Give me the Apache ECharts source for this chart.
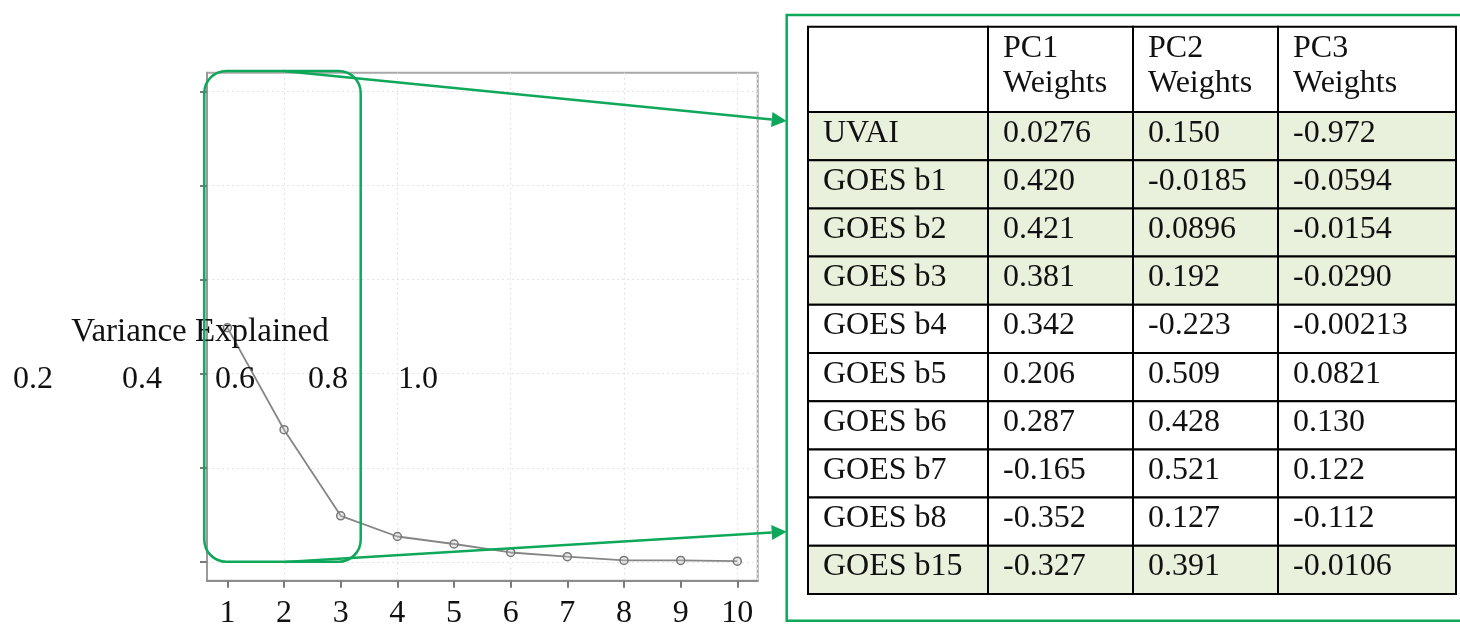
<!DOCTYPE html>
<html>
<head>
<meta charset="utf-8">
<script src="https://cdn.jsdelivr.net/npm/echarts@6/dist/echarts.min.js"></script>
<style>
html, body { margin: 0; padding: 0; background: #fff; }
#main { width: 1460px; height: 633px; }
</style>
</head>
<body>
<div id="main"></div>
<script>
// scree plot data
var components = [1, 2, 3, 4, 5, 6, 7, 8, 9, 10];
var varExplained = [0.498, 0.281, 0.098, 0.054, 0.038, 0.020, 0.011, 0.003, 0.003, 0.0015];
var yTickValues = [0, 0.2, 0.4, 0.6, 0.8, 1.0];
var yTickLabels = ['0.2', '0.4', '0.6', '0.8', '1.0'];
var yAxisName = 'Variance Explained';

// PCA weights table
var tableHeaders = ['', 'PC1\nWeights', 'PC2\nWeights', 'PC3\nWeights'];
var rowNames = ['UVAI', 'GOES b1', 'GOES b2', 'GOES b3', 'GOES b4', 'GOES b5', 'GOES b6', 'GOES b7', 'GOES b8', 'GOES b15'];
var pc1Weights = [0.0276, 0.420, 0.421, 0.381, 0.342, 0.206, 0.287, -0.165, -0.352, -0.327];
var pc2Weights = [0.150, -0.0185, 0.0896, 0.192, -0.223, 0.509, 0.428, 0.521, 0.127, 0.391];
var pc3Weights = [-0.972, -0.0594, -0.0154, -0.0290, -0.00213, 0.0821, 0.130, 0.122, -0.112, -0.0106];
var highlighted = [true, true, true, true, false, false, false, false, false, true];

// layout
var green = '#0fa85a';
var serif = '"Liberation Serif", "DejaVu Serif", serif';
var fontSize = 32;
var colWidths = [180, 145, 145, 178];
var headerHeight = 85.3;
var rowHeight = 48.2;
var yLabelX = [33, 142, 235, 328, 418];

var colEdges = [0];
colWidths.forEach(function (w) { colEdges.push(colEdges[colEdges.length - 1] + w); });
var rowEdges = [0, headerHeight];
rowNames.forEach(function () { rowEdges.push(rowEdges[rowEdges.length - 1] + rowHeight); });
var tableW = colEdges[colEdges.length - 1];
var tableH = rowEdges[rowEdges.length - 1];

var weightCols = [pc1Weights, pc2Weights, pc3Weights];
function cellText(c, r) {
    if (r === 0) return tableHeaders[c];
    if (c === 0) return rowNames[r - 1];
    return weightCols[c - 1][r - 1].toPrecision(3);
}

var cells = [];
for (var r = 0; r < rowEdges.length - 1; r++) {
    for (var c = 0; c < colWidths.length; c++) {
        cells.push([c, r]);
    }
}

function arrow(from, to) {
    var dx = to[0] - from[0], dy = to[1] - from[1];
    var len = Math.sqrt(dx * dx + dy * dy);
    var ux = dx / len, uy = dy / len;
    var bx = to[0] - ux * 15, by = to[1] - uy * 15;
    return [{
        type: 'line', z: 100,
        shape: { x1: from[0], y1: from[1], x2: bx, y2: by },
        style: { stroke: green, lineWidth: 2.5 }
    }, {
        type: 'polygon', z: 100,
        shape: { points: [to, [bx - uy * 7.5, by + ux * 7.5], [bx + uy * 7.5, by - ux * 7.5]] },
        style: { fill: green }
    }];
}

var graphics = [{
    type: 'rect', z: 100,
    shape: { x: 204.3, y: 71, width: 156.4, height: 490.7, r: 22 },
    style: { fill: 'none', stroke: green, lineWidth: 2.5 }
}, {
    type: 'rect', z: 1,
    shape: { x: 786.7, y: 15, width: 720, height: 605.7 },
    style: { fill: 'none', stroke: green, lineWidth: 2.5 }
}, {
    type: 'text', z: 50,
    style: { text: yAxisName, x: 200, y: 332.4, font: '33px ' + serif, fill: '#111', align: 'center', verticalAlign: 'middle' }
}];
yTickLabels.forEach(function (t, i) {
    graphics.push({
        type: 'text', z: 50,
        style: { text: t, x: yLabelX[i], y: 380, font: fontSize + 'px ' + serif, fill: '#111', align: 'center', verticalAlign: 'middle' }
    });
});
graphics = graphics.concat(arrow([283, 71], [786.7, 121]), arrow([285, 562], [786.7, 531.7]));

var chart = echarts.init(document.getElementById('main'));
chart.setOption({
    animation: false,
    backgroundColor: '#fff',
    grid: [
        { left: 207, top: 72.7, width: 550.7, height: 508, show: true, borderColor: '#a8a8a8', borderWidth: 2 },
        { left: 808, top: 26.7, width: tableW, height: tableH }
    ],
    xAxis: [{
        gridIndex: 0, type: 'value', min: 0.64, max: 10.36,
        axisLine: { show: true, onZero: false, lineStyle: { color: '#8c8c8c', width: 2 } },
        axisTick: { show: true, length: 7, customValues: components, lineStyle: { color: '#7a7a7a', width: 2 } },
        axisLabel: { customValues: components, margin: 17, fontFamily: serif, fontSize: fontSize, color: '#111' },
        splitLine: { show: false }
    }, {
        gridIndex: 0, type: 'value', min: 0.64, max: 10.36, position: 'top',
        axisLine: { show: false }, axisTick: { show: false }, axisLabel: { show: false },
        splitLine: { show: true, lineStyle: { color: '#e4e4e4', type: [2, 3], width: 1.2 } }
    }, {
        gridIndex: 1, type: 'value', min: 0, max: tableW, show: false
    }],
    yAxis: [{
        gridIndex: 0, type: 'value', min: -0.04, max: 1.04,
        axisLine: { show: true, lineStyle: { color: '#9a9a9a', width: 2 } },
        axisTick: { show: true, length: 7, customValues: yTickValues, lineStyle: { color: '#7a7a7a', width: 2 } },
        axisLabel: { show: false },
        splitLine: { show: true, lineStyle: { color: '#e4e4e4', type: [2, 3], width: 1.2 } }
    }, {
        gridIndex: 1, type: 'value', min: 0, max: tableH, inverse: true, show: false
    }],
    series: [{
        type: 'line',
        xAxisIndex: 0, yAxisIndex: 0,
        data: components.map(function (k, i) { return [k, varExplained[i]]; }),
        symbol: 'circle', symbolSize: 8,
        lineStyle: { color: '#858585', width: 1.8 },
        itemStyle: { color: 'rgba(200,200,200,0.35)', borderColor: '#777', borderWidth: 1.5 },
        z: 3
    }, {
        type: 'custom',
        xAxisIndex: 2, yAxisIndex: 1,
        data: cells,
        clip: false,
        silent: true,
        renderItem: function (params, api) {
            var c = api.value(0), r = api.value(1);
            var p0 = api.coord([colEdges[c], rowEdges[r]]);
            var p1 = api.coord([colEdges[c + 1], rowEdges[r + 1]]);
            var shaded = r > 0 && highlighted[r - 1];
            return {
                type: 'group',
                children: [{
                    type: 'rect',
                    shape: { x: p0[0], y: p0[1], width: p1[0] - p0[0], height: p1[1] - p0[1] },
                    style: { fill: shaded ? '#e9f0dc' : '#fff', stroke: '#000', lineWidth: 2 }
                }, {
                    type: 'text',
                    style: {
                        text: cellText(c, r),
                        x: p0[0] + 15, y: (p0[1] + p1[1]) / 2 - 3,
                        font: fontSize + 'px ' + serif, fill: '#111',
                        align: 'left', verticalAlign: 'middle', lineHeight: 35
                    }
                }]
            };
        }
    }],
    graphic: graphics
});
</script>
</body>
</html>
